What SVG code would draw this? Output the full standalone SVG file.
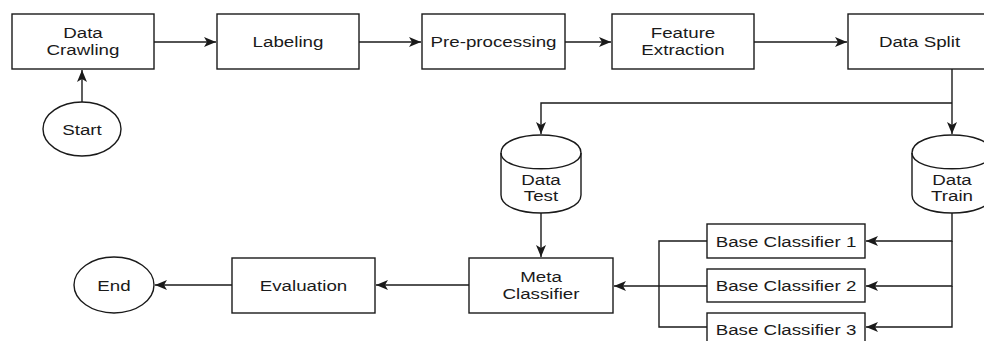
<svg xmlns="http://www.w3.org/2000/svg" width="984" height="341" viewBox="0 0 984 341">
<style>
.n{fill:#fff;stroke:#1a1a1a;stroke-width:1.4}
.c{fill:none;stroke:#1a1a1a;stroke-width:1.4}
text{font-family:"Liberation Sans",Arial,sans-serif;font-size:15px;fill:#1a1a1a;text-anchor:middle}
</style>
<defs>
<marker id="ah" markerUnits="userSpaceOnUse" markerWidth="12" markerHeight="10" viewBox="0 0 12 10" refX="12" refY="5" orient="auto">
<path d="M0,0 L12,5 L0,10 L3,5 Z" fill="#1a1a1a"/>
</marker>
</defs>
<rect width="984" height="341" fill="#fff"/>
<g id="connectors">
<path class="c" d="M154,42 H216" marker-end="url(#ah)"/>
<path class="c" d="M359,42 H421" marker-end="url(#ah)"/>
<path class="c" d="M565,42 H611" marker-end="url(#ah)"/>
<path class="c" d="M754,42 H847" marker-end="url(#ah)"/>
<path class="c" d="M82,102 V70" marker-end="url(#ah)"/>
<path class="c" d="M952,69 V134" marker-end="url(#ah)"/>
<path class="c" d="M952,103 H541 V134" marker-end="url(#ah)"/>
<path class="c" d="M541,213 V257" marker-end="url(#ah)"/>
<path class="c" d="M469,285 H376" marker-end="url(#ah)"/>
<path class="c" d="M232,285 H155" marker-end="url(#ah)"/>
<path class="c" d="M952,213 V241 H866" marker-end="url(#ah)"/>
<path class="c" d="M952,241 V286 H866" marker-end="url(#ah)"/>
<path class="c" d="M952,286 V327 H866" marker-end="url(#ah)"/>
<path class="c" d="M707,241 H659 V327 H707"/>
<path class="c" d="M707,286 H614" marker-end="url(#ah)"/>
</g>
<g id="start"><ellipse class="n" cx="82" cy="129" rx="39" ry="27"/><text transform="translate(82,135) scale(1.25,1)">Start</text></g>
<g id="data-crawling"><rect class="n" x="12" y="14" width="142" height="55"/><text transform="translate(83,38) scale(1.25,1)"><tspan x="0">Data</tspan><tspan x="0" dy="17">Crawling</tspan></text></g>
<g id="labeling"><rect class="n" x="217" y="14" width="142" height="55"/><text transform="translate(288,47) scale(1.25,1)">Labeling</text></g>
<g id="pre-processing"><rect class="n" x="422" y="14" width="143" height="55"/><text transform="translate(493.5,47) scale(1.25,1)">Pre-processing</text></g>
<g id="feature-extraction"><rect class="n" x="612" y="14" width="142" height="55"/><text transform="translate(683,38) scale(1.25,1)"><tspan x="0">Feature</tspan><tspan x="0" dy="17">Extraction</tspan></text></g>
<g id="data-split"><rect class="n" x="848" y="14" width="143" height="55"/><text transform="translate(919.5,47) scale(1.25,1)">Data Split</text></g>
<g id="data-test"><path class="n" d="M501,153 C501,129 581,129 581,153 L581,195 C581,219 501,219 501,195 Z"/><path class="c" d="M501,153 C501,174 581,174 581,153"/><text transform="translate(541,185) scale(1.25,1)"><tspan x="0">Data</tspan><tspan x="0" dy="16.5">Test</tspan></text></g>
<g id="data-train"><path class="n" d="M912,153 C912,129 992,129 992,153 L992,195 C992,219 912,219 912,195 Z"/><path class="c" d="M912,153 C912,174 992,174 992,153"/><text transform="translate(952,185) scale(1.25,1)"><tspan x="0">Data</tspan><tspan x="0" dy="16.5">Train</tspan></text></g>
<g id="meta-classifier"><rect class="n" x="469" y="258" width="144" height="55"/><text transform="translate(541,282) scale(1.25,1)"><tspan x="0">Meta</tspan><tspan x="0" dy="17">Classifier</tspan></text></g>
<g id="evaluation"><rect class="n" x="232" y="258" width="143" height="55"/><text transform="translate(303.5,291) scale(1.25,1)">Evaluation</text></g>
<g id="end"><ellipse class="n" cx="114" cy="285" rx="40" ry="28"/><text transform="translate(114,291) scale(1.25,1)">End</text></g>
<g id="base-classifier-1"><rect class="n" x="707" y="224" width="158" height="34"/><text transform="translate(786,246.5) scale(1.25,1)">Base Classifier 1</text></g>
<g id="base-classifier-2"><rect class="n" x="707" y="269" width="158" height="33"/><text transform="translate(786,291) scale(1.25,1)">Base Classifier 2</text></g>
<g id="base-classifier-3"><rect class="n" x="707" y="313" width="158" height="34"/><text transform="translate(786,334.5) scale(1.25,1)">Base Classifier 3</text></g>
</svg>
